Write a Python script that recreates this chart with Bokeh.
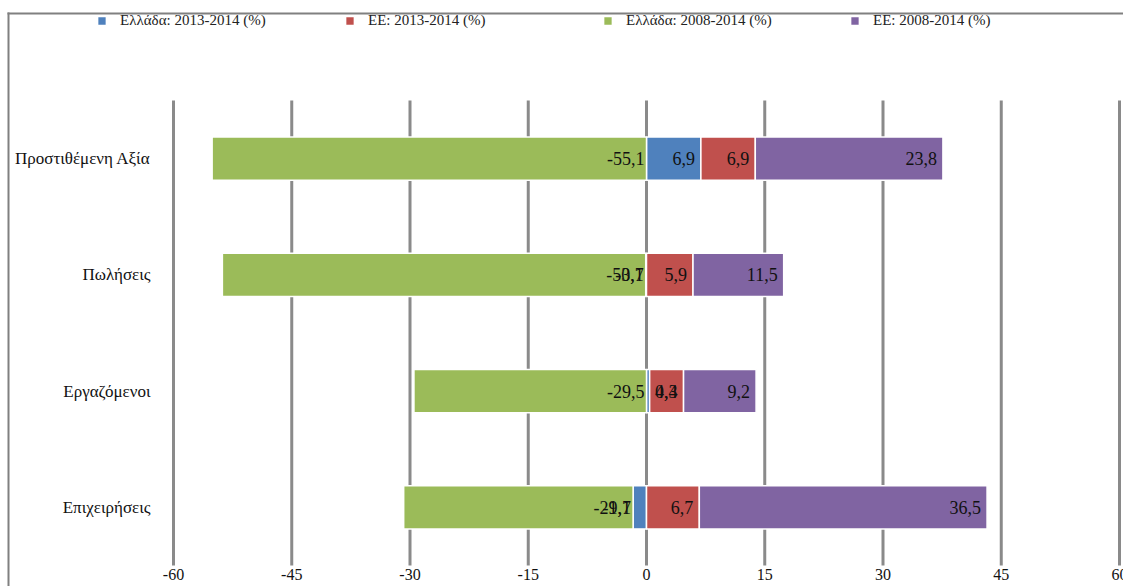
from bokeh.plotting import figure
from bokeh.models import (ColumnDataSource, Range1d, Legend, LegendItem,
                          GlobalInlineStyleSheet)
from bokeh.core.properties import value
from bokeh.embed import file_html
from bokeh.resources import INLINE

# ---- data -------------------------------------------------------------
categories = ["Προστιθέμενη Αξία", "Πωλήσεις", "Εργαζόμενοι", "Επιχειρήσεις"]

gr_2013_2014 = [6.9, -0.1, 0.4, -1.7]
eu_2013_2014 = [6.9, 5.9, 4.3, 6.7]
gr_2008_2014 = [-55.1, -53.7, -29.5, -29.1]
eu_2008_2014 = [23.8, 11.5, 9.2, 36.5]

series_labels = ["Ελλάδα: 2013-2014 (%)", "ΕΕ: 2013-2014 (%)",
                 "Ελλάδα: 2008-2014 (%)", "ΕΕ: 2008-2014 (%)"]
series_colors = ["#4F81BD", "#C0504D", "#9BBB59", "#8064A2"]

x_ticks = [-60, -45, -30, -15, 0, 15, 30, 45, 60]

# ---- canvas geometry (pixels) -----------------------------------------
W, H = 1123, 586
PLOT_LEFT, PLOT_RIGHT = 173, 1119      # where the first / last tick fall
BAND_TOP, BAND_BOTTOM = 100, 565       # vertical extent of the category bands
SERIF = "Liberation Serif"

n = len(categories)
SX = (PLOT_RIGHT - PLOT_LEFT) / (x_ticks[-1] - x_ticks[0])
SY = (BAND_BOTTOM - BAND_TOP) / n
x_start = x_ticks[0] - PLOT_LEFT / SX
x_end = x_ticks[-1] + (W - PLOT_RIGHT) / SX
y_start = -0.5 - (H - BAND_BOTTOM) / SY
y_end = (n - 0.5) + BAND_TOP / SY


def px_x(px):
    return x_start + px / SX


def px_y(py):
    return y_end - py / SY


p = figure(width=W, height=H, output_backend="svg", toolbar_location=None,
           x_range=Range1d(x_start, x_end), y_range=Range1d(y_start, y_end),
           x_axis_location=None, y_axis_location=None, min_border=0)
p.outline_line_color = None
p.background_fill_color = "white"
p.border_fill_color = "white"
p.grid.visible = False
p.styles = {"overflow": "hidden"}
p.stylesheets = [GlobalInlineStyleSheet(
    css="html, body { margin: 0; overflow: hidden; }")]

# chart-area frame: left and top edges
p.segment(x0=[px_x(8), px_x(7)], y0=[px_y(12), px_y(13)],
          x1=[px_x(8), px_x(W)], y1=[px_y(H), px_y(13)],
          line_color="#808080", line_width=2)

# vertical gridlines over the category bands
band_lo, band_hi = -0.5, n - 0.5
p.segment(x0=x_ticks, y0=[band_lo] * len(x_ticks),
          x1=x_ticks, y1=[band_hi] * len(x_ticks),
          line_color="#8a8a8a", line_width=3)

# tick labels under the gridlines
p.text(x=x_ticks, y=[band_lo] * len(x_ticks), text=[str(t) for t in x_ticks],
       text_align="center", text_baseline="top", y_offset=3,
       text_font=value(SERIF), text_font_size="16px", text_color="#111111")

# category labels left of the first gridline
y_pos = [n - 1 - i for i in range(n)]
p.text(x=[x_ticks[0]] * n, y=y_pos, text=categories, x_offset=-23,
       text_align="right", text_baseline="middle",
       text_font=value(SERIF), text_font_size="17px", text_color="#111111")

# ---- diverging stacked bars -------------------------------------------
all_series = [gr_2013_2014, eu_2013_2014, gr_2008_2014, eu_2008_2014]
pos_edge = [0.0] * n
neg_edge = [0.0] * n
segments = []      # per series: list of (left, right)
bar_renderers = []
for vals, color in zip(all_series, series_colors):
    lefts, rights = [], []
    for i, v in enumerate(vals):
        if v >= 0:
            lefts.append(pos_edge[i]); rights.append(pos_edge[i] + v)
            pos_edge[i] += v
        else:
            lefts.append(neg_edge[i] + v); rights.append(neg_edge[i])
            neg_edge[i] += v
    segments.append(list(zip(lefts, rights)))
    src = ColumnDataSource(dict(y=y_pos, left=lefts, right=rights))
    r = p.hbar(y="y", left="left", right="right", height=0.37, source=src,
               fill_color=color, line_color="white", line_width=1.5)
    bar_renderers.append(r)

# ---- value labels -----------------------------------------------------
# each label sits at the right end of its segment; thin segments share the
# anchor of the next segment stacked on the same side
anchors = []
for s, vals in enumerate(all_series):
    row = []
    for i, v in enumerate(vals):
        left, right = segments[s][i]
        row.append((right, -6 if v >= 0 else -2))
    anchors.append(row)

lab_x, lab_y, lab_t, lab_off = [], [], [], []
for s, vals in enumerate(all_series):
    for i, v in enumerate(vals):
        ax, off = anchors[s][i]
        if abs(v) < 2:
            for t in range(s + 1, len(all_series)):
                if (all_series[t][i] >= 0) == (v >= 0):
                    ax, off = anchors[t][i]
                    break
        lab_x.append(ax)
        lab_y.append(y_pos[i])
        lab_t.append(f"{v:.1f}".replace(".", ","))
        lab_off.append(off)

lab_src = ColumnDataSource(dict(x=lab_x, y=lab_y, text=lab_t, off=lab_off))
p.text(x="x", y="y", text="text", x_offset="off", source=lab_src,
       text_align="right", text_baseline="middle",
       text_font=value(SERIF), text_font_size="18px", text_color="#111111")

# ---- legend (one entry per slot across the top) -----------------------
legend_slots = [96, 344, 602, 849]
for name, r, sx in zip(series_labels, bar_renderers, legend_slots):
    lg = Legend(items=[LegendItem(label=name, renderers=[r])],
                location=(sx, 557), orientation="horizontal",
                label_text_font=SERIF, label_text_font_size="15px",
                label_text_color="#222222",
                glyph_width=11, glyph_height=11, label_standoff=13,
                label_height=18, padding=0, margin=0, spacing=0,
                border_line_alpha=0, background_fill_alpha=0)
    p.add_layout(lg, "center")

open("out.html", "w").write(file_html(p, INLINE))
